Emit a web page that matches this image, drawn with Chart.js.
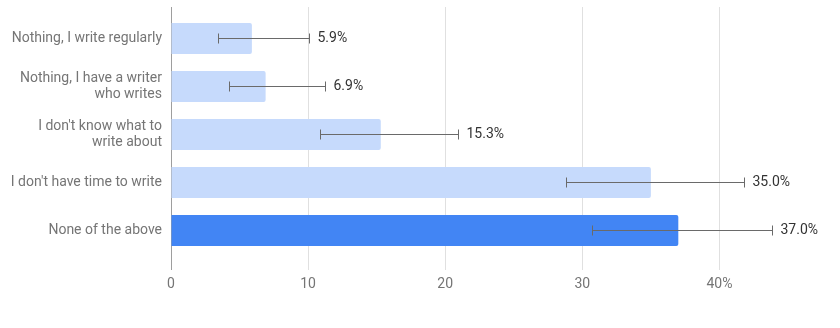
<!DOCTYPE html>
<html>
<head>
<meta charset="utf-8">
<script src="https://cdn.jsdelivr.net/npm/chart.js@4"></script>
<style>
  html, body { margin: 0; padding: 0; background: #fff; }
  #wrap { width: 840px; height: 328px; }
</style>
</head>
<body>
<div id="wrap"><canvas id="chart"></canvas></div>
<script>
/* global Chart */

// ---------- DATA ----------
const categories = [
  'Nothing, I write regularly',
  ['Nothing, I have a writer', 'who writes'],
  ['I don\'t know what to', 'write about'],
  'I don\'t have time to write',
  'None of the above'
];
const shares   = [5.9, 6.9, 15.3, 35.0, 37.0];   // %
const errLow   = [3.4, 4.2, 10.9, 28.8, 30.7];
const errHigh  = [10.1, 11.2, 20.9, 41.8, 43.8];
const xTicks   = [0, 10, 20, 30, 40];

const LIGHT = '#c6dafc';
const DARK  = '#4285f4';
const barColors = shares.map((_, i) => i === shares.length - 1 ? DARK : LIGHT);

// ---------- error bars + value labels ----------
const errorBars = {
  id: 'errorBars',
  afterDatasetsDraw (chart) {
    const { ctx, scales: { x, y } } = chart;
    ctx.save();
    ctx.strokeStyle = '#6a6a6a';
    ctx.lineWidth = 1;
    ctx.font = '14px Roboto';
    ctx.fillStyle = '#333';
    ctx.textBaseline = 'middle';
    shares.forEach((v, i) => {
      const py = Math.round(y.getPixelForValue(i)) + 0.5;
      const x0 = Math.round(x.getPixelForValue(errLow[i])) + 0.5;
      const x1 = Math.round(x.getPixelForValue(errHigh[i])) + 0.5;
      ctx.beginPath();
      ctx.moveTo(x0, py); ctx.lineTo(x1, py);
      ctx.moveTo(x0, py - 5); ctx.lineTo(x0, py + 5);
      ctx.moveTo(x1, py - 5); ctx.lineTo(x1, py + 5);
      ctx.stroke();
      ctx.fillText(v.toFixed(1) + '%', x1 + 8, py);
    });
    ctx.restore();
  }
};

new Chart(document.getElementById('chart'), {
  type: 'bar',
  data: {
    datasets: [{
      data: shares.map((v, i) => ({ x: v, y: i })),
      backgroundColor: barColors,
      borderRadius: 2,
      borderSkipped: 'start',
      categoryPercentage: 1,
      barPercentage: 0.646
    }]
  },
  options: {
    indexAxis: 'y',
    responsive: true,
    maintainAspectRatio: false,
    animation: false,
    layout: { padding: { top: 7, right: 52, left: 0, bottom: 0 } },
    plugins: { legend: { display: false }, tooltip: { enabled: false } },
    scales: {
      y: {
        type: 'linear',
        reverse: true,
        offset: false,
        min: -0.656,
        max: 4.823,
        afterBuildTicks: s => { s.ticks = categories.map((_, i) => ({ value: i })); },
        afterFit: s => { s.width = 171; s.paddingTop = 0; s.paddingBottom = 0; },
        grid: { display: false, drawTicks: false, offset: false },
        border: { display: false },
        ticks: {
          padding: 9,
          color: '#757575',
          font: { family: 'Roboto', size: 14, lineHeight: 1.15 },
          callback: v => categories[v]
        }
      },
      x: {
        type: 'linear',
        min: 0,
        max: 45,
        afterBuildTicks: s => { s.ticks = xTicks.map(v => ({ value: v })); },
        afterFit: s => { s.height = 58; },
        grid: {
          drawTicks: false,
          color: c => c.tick && c.tick.value === 0 ? '#9e9e9e' : '#e0e0e0'
        },
        border: { display: false },
        ticks: {
          padding: 6,
          color: '#757575',
          font: { family: 'Roboto', size: 14 },
          callback: v => v === 40 ? v + '%' : v
        }
      }
    }
  },
  plugins: [errorBars]
});
</script>
</body>
</html>
